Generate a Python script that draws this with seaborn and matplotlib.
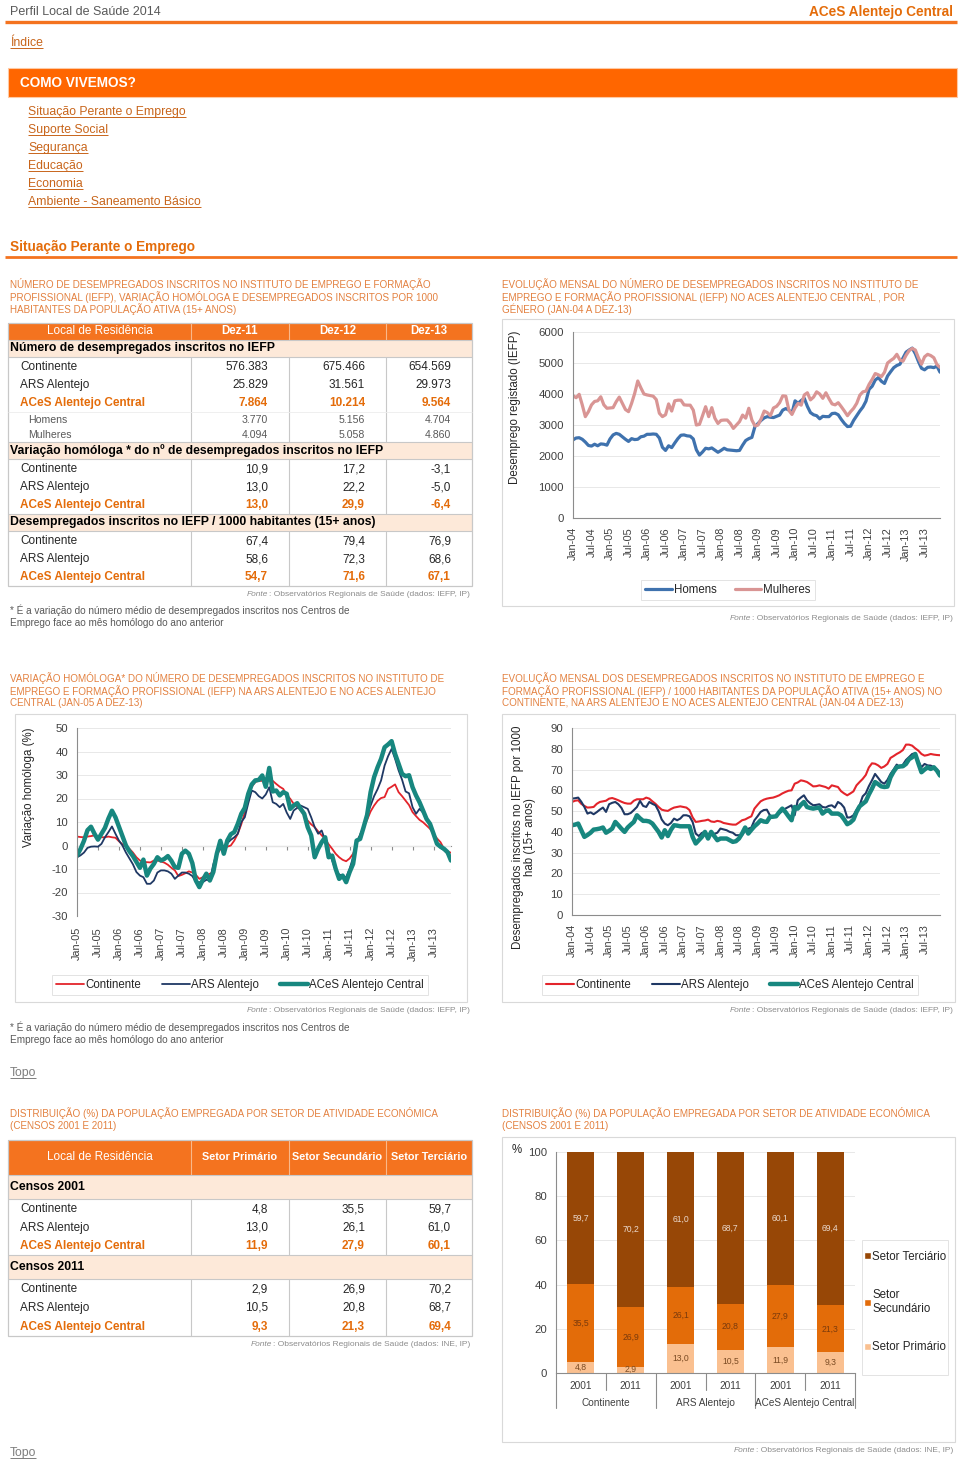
import matplotlib
matplotlib.use("Agg")
import matplotlib.pyplot as plt
from matplotlib.patches import Rectangle, Patch
from matplotlib.lines import Line2D
import numpy as np
import pandas as pd
import seaborn as sns

# ---------------- data ----------------
# monthly registered unemployed, ACeS Alentejo Central, Jan-04 .. Dec-13
homens = [
    2520, 2580, 2590, 2540, 2450, 2340, 2320, 2380, 2330, 2390, 2380, 2350,
    2550, 2680, 2730, 2700, 2620, 2540, 2470, 2560, 2530, 2540, 2620, 2640,
    2700, 2700, 2710, 2700, 2580, 2280, 2180, 2330, 2270, 2420, 2560, 2670,
    2680, 2650, 2640, 2550, 2200, 2030, 2130, 2250, 2230, 2260, 2190, 2120,
    2180, 2250, 2200, 2190, 2180, 2170, 2180, 2350, 2500, 2560, 2600, 2950,
    3050, 3150, 3230, 3270, 3250, 3240, 3280, 3320, 3480, 3530, 3480, 3380,
    3780, 3700, 3790, 3860, 3600, 3400, 3330, 3300, 3200, 3280, 3270, 3270,
    3370, 3380, 3330, 3180, 3050, 2950, 2960, 3150, 3300, 3450, 3580, 3770,
    4150, 4250, 4450, 4530, 4410, 4340, 4580, 4720, 4850, 4920, 4960, 5160,
    5350, 5420, 5480, 5300, 5050, 4830, 4780, 4860, 4870, 4850, 4900, 4704,
]
mulheres = [
    3950, 3880, 3990, 3650, 3270, 3430, 3650, 3760, 3780, 3910, 3650, 3540,
    3550, 3560, 3750, 3900, 3700, 3500, 3430, 3700, 4020, 4420, 4200, 4000,
    3970, 3950, 3930, 3820, 3380, 3270, 3330, 3680, 3450, 3780, 3800, 3800,
    3650, 3640, 3640, 3480, 3000, 3020, 3300, 3590, 3270, 3560, 3220, 3050,
    3150, 3160, 3160, 3050, 2890, 3000, 3110, 3320, 3220, 3540, 3160, 2970,
    3000, 3200, 3450, 3400, 3300, 3550, 3600, 3720, 3940, 3930, 3480, 3340,
    3550, 3700, 3640, 3970, 4040, 3810, 3900, 4070, 4000, 3860, 4040, 3850,
    3680, 3650, 3720, 3590, 3450, 3300, 3430, 3540, 3700, 3960, 4070, 4094,
    4310, 4470, 4660, 4620, 4560, 4700, 5000, 5080, 5150, 5280, 5100, 5058,
    5250, 5400, 5470, 5420, 5170, 4960, 5200, 5280, 5240, 5170, 4950, 4860,
]

# year-on-year variation (%), Jan-05 .. Dec-13
var_cont = [
    3.8, 3.6, 3.5, 3.8, 4.0, 4.3, 3.6, 3.5, 3.5, 3.8, 3.5, 3.3,
    1.8, 0.5, -0.5, -1.4, -3.0, -5.0, -6.4, -7.0, -7.1, -7.2, -6.4, -6.4,
    -6.8, -7.3, -8.2, -9.5, -10.6, -13.0, -12.5, -11.8, -11.0, -11.5, -12.5, -14.2,
    -13.5, -12.8, -12.0, -11.5, -4.0, -1.5, -1.0, -0.5, 0.0, 2.1, 5.0, 9.0,
    14.0, 20.0, 25.0, 27.0, 27.5, 27.5, 28.0, 28.4, 27.5, 26.2, 25.0, 24.1,
    21.5, 19.9, 17.7, 16.5, 14.9, 13.0, 10.6, 9.0, 7.8, 6.0, 4.3, 2.8,
    0.5, -1.4, -3.5, -5.0, -6.1, -6.7, -5.5, -3.5, 0.7, 4.5, 7.8, 10.9,
    14.5, 17.0, 19.0, 20.2, 20.6, 24.1, 25.0, 26.0, 22.7, 21.0, 19.1, 17.2,
    14.2, 12.5, 10.9, 9.9, 8.5, 7.1, 5.0, 3.0, 1.4, -1.4, -2.5, -3.1,
]
var_ars = [
    -5.0, -4.2, -3.0, -1.0, -0.5, -0.4, -0.5, 0.7, 3.5, 5.7, 8.1, 5.0,
    2.1, 0.0, -3.0, -5.5, -8.0, -11.3, -12.8, -13.5, -16.3, -16.3, -14.9, -11.5,
    -10.6, -10.6, -11.0, -12.0, -14.2, -12.8, -11.5, -11.5, -12.0, -13.0, -15.6, -15.6,
    -15.6, -14.6, -14.9, -8.0, -3.0, -1.4, -2.1, 1.0, 2.4, 3.5, 5.0, 10.0,
    12.0, 18.0, 23.4, 22.7, 21.0, 20.0, 21.7, 24.8, 18.4, 17.7, 16.3, 17.7,
    14.0, 11.3, 14.9, 16.0, 17.0, 16.3, 15.6, 12.0, 7.8, 5.0, 6.4, 2.1,
    -2.1, -6.4, -10.6, -12.3, -13.0, -13.5, -9.9, -5.0, 1.4, 4.5, 7.8, 13.0,
    17.0, 21.0, 24.0, 27.7, 34.0, 38.0, 41.1, 36.9, 32.0, 28.0, 23.0, 22.2,
    16.3, 13.5, 15.6, 14.0, 11.0, 9.0, 5.0, 1.0, -1.0, -2.0, -3.5, -5.0,
]
var_aces = [
    -4.3, -1.5, 2.0, 6.5, 8.0, 5.0, 2.5, 5.0, 7.5, 11.5, 14.8, 12.0,
    8.0, 4.0, 0.0, -2.5, -4.5, -7.0, -9.5, -6.0, -12.8, -9.8, -7.8, -5.0,
    -6.4, -5.7, -4.5, -6.5, -9.2, -9.5, -3.5, -2.2, -3.5, -7.5, -14.9, -17.7,
    -14.6, -12.0, -14.9, -11.3, -3.5, 2.0, -3.5, 2.1, 4.8, 5.7, 9.2, 13.5,
    16.0, 22.0, 26.0, 27.7, 27.9, 29.8, 25.0, 33.0, 23.0, 23.4, 21.3, 22.7,
    22.0, 15.6, 17.0, 18.0, 15.6, 13.5, 7.8, 4.3, -5.0, -1.4, 1.4, 3.5,
    -5.0, -4.3, -9.9, -14.2, -12.8, -15.6, -11.3, -7.8, 2.1, 2.8, 7.8, 13.0,
    22.7, 29.1, 33.3, 36.9, 41.8, 43.0, 44.4, 39.0, 34.8, 30.5, 29.5, 29.9,
    24.8, 21.3, 18.4, 14.9, 11.3, 9.2, 5.0, 0.7, -0.5, -1.4, -2.8, -6.4,
]

# unemployed per 1000 inhabitants (15+), Jan-04 .. Dec-13
hab_cont = [
    54.4, 55.0, 55.2, 53.5, 52.5, 51.7, 51.8, 52.0, 53.5, 54.4, 54.7, 55.0,
    56.0, 56.3, 55.8, 55.2, 54.5, 53.9, 53.6, 53.6, 55.0, 55.7, 55.7, 55.7,
    56.5, 56.0, 54.7, 53.5, 52.0, 50.7, 50.3, 50.1, 51.0, 51.7, 52.0, 52.3,
    52.0, 51.7, 50.5, 47.0, 44.8, 45.0, 45.3, 45.5, 45.9, 45.0, 44.8, 45.3,
    45.0, 44.3, 44.0, 43.7, 43.5, 43.5, 44.5, 45.6, 46.0, 46.8, 47.5, 51.2,
    53.0, 54.7, 55.5, 56.0, 56.3, 56.5, 57.0, 57.6, 58.5, 59.2, 59.8, 60.0,
    63.2, 63.8, 64.8, 64.5, 64.0, 63.0, 61.9, 62.0, 62.4, 62.0, 61.6, 60.8,
    62.4, 62.0, 61.6, 59.6, 58.5, 57.6, 58.5, 59.5, 62.4, 64.0, 65.5, 67.4,
    71.0, 73.0, 72.8, 72.0, 70.8, 71.5, 72.7, 75.6, 76.5, 77.5, 78.3, 79.4,
    82.0, 82.0, 81.5, 80.2, 79.1, 77.5, 76.7, 77.0, 77.5, 77.2, 77.0, 76.9,
]
hab_ars = [
    56.0, 56.2, 56.5, 54.5, 52.0, 48.8, 49.4, 48.5, 49.5, 50.7, 51.7, 49.6,
    53.3, 54.0, 54.4, 53.3, 51.5, 48.5, 48.5, 49.1, 50.5, 52.0, 54.9, 52.5,
    52.0, 54.4, 53.5, 52.8, 50.0, 46.0, 44.0, 43.2, 44.3, 46.4, 45.6, 46.4,
    48.0, 48.0, 47.5, 44.8, 39.2, 38.0, 39.5, 40.0, 38.4, 40.0, 39.0, 39.6,
    41.6, 41.2, 40.8, 40.0, 39.6, 38.4, 38.4, 38.4, 40.8, 41.5, 42.1, 45.6,
    47.5, 49.6, 50.5, 50.7, 48.0, 47.2, 47.5, 48.8, 50.0, 51.2, 52.0, 52.8,
    48.0, 55.2, 56.5, 57.6, 55.2, 53.8, 52.8, 53.0, 53.3, 52.0, 51.7, 52.5,
    52.8, 51.7, 54.4, 53.5, 51.7, 46.9, 47.0, 48.0, 50.5, 52.8, 57.1, 58.6,
    62.0, 64.8, 67.9, 66.0, 64.0, 63.2, 65.0, 67.9, 70.0, 72.4, 71.1, 72.3,
    74.6, 76.0, 77.5, 77.8, 74.0, 71.1, 72.7, 72.0, 71.9, 71.1, 69.9, 68.6,
]
hab_aces = [
    43.2, 43.5, 44.0, 40.8, 37.6, 38.5, 39.6, 41.1, 41.3, 41.6, 42.1, 39.6,
    40.5, 41.6, 44.8, 43.2, 41.5, 40.0, 42.1, 43.5, 44.8, 48.0, 46.5, 45.3,
    45.3, 45.0, 44.0, 42.0, 40.0, 37.3, 40.8, 38.0, 41.0, 43.2, 43.0, 42.7,
    42.7, 42.7, 42.7, 37.6, 34.4, 36.0, 37.6, 40.0, 36.8, 40.0, 38.0, 36.0,
    36.8, 36.8, 36.8, 36.0, 35.2, 35.5, 36.8, 39.2, 42.1, 39.2, 41.0, 42.7,
    44.0, 45.6, 45.0, 44.8, 47.2, 47.3, 47.5, 49.5, 51.2, 49.6, 47.5, 45.6,
    52.0, 51.2, 53.0, 54.4, 52.0, 51.5, 51.2, 51.5, 51.7, 48.8, 50.0, 50.4,
    48.8, 48.8, 48.8, 48.0, 46.0, 43.7, 44.5, 45.9, 49.6, 52.3, 53.5, 54.7,
    58.0, 60.8, 64.0, 63.0, 61.9, 61.6, 61.8, 66.3, 69.0, 71.1, 71.5, 71.6,
    72.7, 75.0, 75.9, 77.5, 73.0, 68.7, 70.0, 71.1, 70.3, 71.1, 69.5, 67.1,
]

lbl_04 = [f"{m}-{y:02d}" for y in range(4, 14) for m in ("Jan", "Jul")]
lbl_05 = [f"{m}-{y:02d}" for y in range(5, 14) for m in ("Jan", "Jul")]

# table 1
t1_cols = ["Dez-11", "Dez-12", "Dez-13"]
t1_sec1 = "Número de desempregados inscritos no IEFP"
t1_rows1 = [
    ("Continente", ["576.383", "675.466", "654.569"], "n"),
    ("ARS Alentejo", ["25.829", "31.561", "29.973"], "n"),
    ("ACeS Alentejo Central", ["7.864", "10.214", "9.564"], "a"),
    ("Homens", ["3.770", "5.156", "4.704"], "s"),
    ("Mulheres", ["4.094", "5.058", "4.860"], "s"),
]
t1_sec2 = "Variação homóloga * do nº de desempregados inscritos no IEFP"
t1_rows2 = [
    ("Continente", ["10,9", "17,2", "-3,1"], "n"),
    ("ARS Alentejo", ["13,0", "22,2", "-5,0"], "n"),
    ("ACeS Alentejo Central", ["13,0", "29,9", "-6,4"], "a"),
]
t1_sec3 = "Desempregados inscritos no IEFP / 1000 habitantes (15+ anos)"
t1_rows3 = [
    ("Continente", ["67,4", "79,4", "76,9"], "n"),
    ("ARS Alentejo", ["58,6", "72,3", "68,6"], "n"),
    ("ACeS Alentejo Central", ["54,7", "71,6", "67,1"], "a"),
]

# table 2 / chart 4
regioes = ["Continente", "ARS Alentejo", "ACeS Alentejo Central"]
anos = ["2001", "2011"]
t2_cols = ["Setor Primário", "Setor Secundário", "Setor Terciário"]
primario = [4.8, 2.9, 13.0, 10.5, 11.9, 9.3]
secundario = [35.5, 26.9, 26.1, 20.8, 27.9, 21.3]
terciario = [59.7, 70.2, 61.0, 68.7, 60.1, 69.4]

# ---------------- style ----------------
sns.set_style("white")
plt.rcParams["font.family"] = ["Liberation Sans", "DejaVu Sans"]
plt.rcParams["axes.unicode_minus"] = False

W, H = 960, 1461
ORANGE = "#FF6600"
HEAD = "#F4731F"
PEACH = "#FDE9D9"
ACES = "#E46C0A"
TITLE = "#E3803F"
LINK = "#C8651B"
DARK = "#262626"
GRAY = "#8C8C8C"
FRAME = "#D9D9D9"
AXIS = "#8C8C8C"
GRID = "#E8E8E8"
TICK = "#404040"
BLUE, PINK = "#3F72AE", "#D99594"
RED, NAVY, TEAL = "#E3242B", "#1F3864", "#17877F"
C_TER, C_SEC, C_PRI = "#974706", "#E36C09", "#FAC090"

fig = plt.figure(figsize=(W / 100, H / 100), dpi=100)
bg = fig.add_axes([0, 0, 1, 1])
bg.set_xlim(0, W)
bg.set_ylim(H, 0)
bg.axis("off")
renderer = fig.canvas.get_renderer()


def txt(x, y, s, size=8.5, color=DARK, **kw):
    kw.setdefault("va", "center")
    return bg.text(x, y, s, fontsize=size, color=color, **kw)


def hline(x0, x1, y, color, lw):
    bg.plot([x0, x1], [y, y], color=color, lw=lw, solid_capstyle="butt")


def vline(x, y0, y1, color, lw):
    bg.plot([x, x], [y0, y1], color=color, lw=lw, solid_capstyle="butt")


def rect(x0, y0, x1, y1, fc="none", ec="none", lw=0.8):
    bg.add_patch(Rectangle((x0, y0), x1 - x0, y1 - y0, facecolor=fc, edgecolor=ec, lw=lw))


def link(x, y, s, color=LINK, size=8.8):
    t = txt(x, y, s, size=size, color=color)
    bb = t.get_window_extent(renderer)
    hline(bb.x0, bb.x1, H - bb.y0 - 1, color, 0.7)


def fonte(xr, y, rest):
    t = txt(xr, y, rest, size=6, color=GRAY, ha="right")
    bb = t.get_window_extent(renderer)
    txt(bb.x0 - 1, y, "Fonte", size=6, color=GRAY, ha="right", style="italic")


def title(x, y0, lines):
    for i, s in enumerate(lines):
        txt(x, y0 + i * 12.7, s, size=7.1, color=TITLE)


def note(y):
    txt(10, y, "* É a variação do número médio de desempregados inscritos nos Centros de",
        size=7.2, color="#595959")
    txt(10, y + 13, "Emprego face ao mês homólogo do ano anterior", size=7.2, color="#595959")


def add_ax(x0, y0, x1, y1):
    ax = fig.add_axes([x0 / W, 1 - y1 / H, (x1 - x0) / W, (y1 - y0) / H])
    ax.patch.set_alpha(0)
    return ax


def style_ax(ax):
    for s in ["top", "right"]:
        ax.spines[s].set_visible(False)
    for s in ["left", "bottom"]:
        ax.spines[s].set_color(AXIS)
        ax.spines[s].set_linewidth(0.8)
    ax.yaxis.grid(True, color=GRID, lw=0.7)
    ax.xaxis.grid(False)
    ax.set_axisbelow(True)
    ax.tick_params(axis="both", colors=AXIS, labelcolor=TICK, labelsize=8.2,
                   length=3, width=0.8, direction="out")
    ax.set_xlabel("")
    ax.set_ylabel("")


def fig_legend(ax, handles, labels, cx, cy, frame=True, **kw):
    leg = ax.legend(handles, labels, loc="center", bbox_to_anchor=(cx / W, 1 - cy / H),
                    bbox_transform=fig.transFigure, frameon=frame, fancybox=False,
                    edgecolor="#E3E3E3", framealpha=1, fontsize=8.3, borderpad=0.35,
                    handletextpad=0.15, **kw)
    if frame:
        leg.get_frame().set_linewidth(0.7)
    for t in leg.get_texts():
        t.set_color(DARK)
    return leg


# ---------------- page header ----------------
txt(10, 12, "Perfil Local de Saúde 2014", size=9, color="#595959")
txt(953, 12, "ACeS Alentejo Central", size=9.8, color=ACES, ha="right", weight="bold")
hline(5, 957, 22, HEAD, 2.4)
link(10, 43, "Índice")
rect(8, 68, 957, 97, fc=ORANGE, ec="#FFC9A3", lw=0.8)
txt(20, 83, "COMO VIVEMOS?", size=9.8, color="white", weight="bold")
for i, s in enumerate(["Situação Perante o Emprego", "Suporte Social", "Segurança",
                       "Educação", "Economia", "Ambiente - Saneamento Básico"]):
    link(28, 112 + i * 18, s)
txt(10, 247, "Situação Perante o Emprego", size=9.8, color=ACES, weight="bold")
hline(5, 957, 256.5, HEAD, 2.0)

# ---------------- table 1 ----------------
title(10, 284, ["NÚMERO DE DESEMPREGADOS INSCRITOS NO INSTITUTO DE EMPREGO E FORMAÇÃO",
                "PROFISSIONAL (IEFP), VARIAÇÃO HOMÓLOGA E DESEMPREGADOS INSCRITOS POR 1000",
                "HABITANTES DA POPULAÇÃO ATIVA (15+ ANOS)"])
COLX = [8, 191, 289, 386, 472]
VALX = [268, 365, 451]
LINE = "#C8C8C8"


def table(y_top, y_head, y_bot, head_labels, sections, size_head=8.3):
    rect(COLX[0], y_top, COLX[-1], y_head, fc=HEAD)
    for x in COLX[1:-1]:
        vline(x, y_top, y_head, "#F9B88A", 0.8)
    yc = (y_top + y_head) / 2
    txt((COLX[0] + COLX[1]) / 2, yc, "Local de Residência", size=8.5, color="white", ha="center")
    for j, s in enumerate(head_labels):
        txt((COLX[j + 1] + COLX[j + 2]) / 2, yc, s, size=size_head, color="white",
            ha="center", weight="bold")
    for name, (b0, b1), rows, ends in sections:
        rect(COLX[0], b0, COLX[-1], b1, fc=PEACH)
        hline(COLX[0], COLX[-1], b0, LINE, 0.8)
        hline(COLX[0], COLX[-1], b1, LINE, 0.8)
        txt(10, (b0 + b1) / 2, name, size=8.8, color="black", weight="bold")
        for x in COLX[1:-1]:
            vline(x, b1, ends, LINE, 0.8)
        for (label, vals, kind), y in rows:
            if kind == "a":
                kw = dict(size=8.5, color=ACES, weight="bold")
                lx = 20
            elif kind == "s":
                kw = dict(size=7.6, color="#595959")
                lx = 28
            else:
                kw = dict(size=8.5, color=DARK)
                lx = 20
            txt(lx, y, label, **kw)
            for v, x in zip(vals, VALX):
                txt(x, y, v, ha="right", **kw)
    rect(COLX[0], y_top, COLX[-1], y_bot, ec=LINE, lw=0.9)


table(323, 340, 586, t1_cols, [
    (t1_sec1, (340, 357), list(zip(t1_rows1, [367, 385, 403, 420, 435])), 442),
    (t1_sec2, (442, 459), list(zip(t1_rows2, [469, 487, 505])), 514),
    (t1_sec3, (514, 531), list(zip(t1_rows3, [541, 559, 577])), 586),
])
hline(COLX[0], COLX[-1], 411.5, "#EDEDED", 0.6)
fonte(470, 594, ": Observatórios Regionais de Saúde (dados: IEFP, IP)")
note(610)

# ---------------- chart 1: homens / mulheres ----------------
title(502, 284, ["EVOLUÇÃO MENSAL DO NÚMERO DE DESEMPREGADOS INSCRITOS NO INSTITUTO DE",
                 "EMPREGO E FORMAÇÃO PROFISSIONAL (IEFP) NO ACES ALENTEJO CENTRAL , POR",
                 "GÉNERO (JAN-04 A DEZ-13)"])
rect(502, 319, 954, 606, ec=FRAME)
ax1 = add_ax(573, 332, 940, 518)
m120 = np.arange(len(homens))
sns.lineplot(x=m120, y=homens, color=BLUE, lw=2.3, ax=ax1, solid_joinstyle="round")
sns.lineplot(x=m120, y=mulheres, color=PINK, lw=2.3, ax=ax1, solid_joinstyle="round")
style_ax(ax1)
ax1.set_xlim(0, 119)
ax1.set_ylim(0, 6000)
ax1.set_yticks(range(0, 7000, 1000))
ax1.set_xticks(range(0, 120, 6))
ax1.set_xticklabels(lbl_04, rotation=90, fontsize=7.8)
txt(515, 407, "Desemprego registado (IEFP)", size=8.3, rotation=90, ha="center")
fig_legend(ax1, [Line2D([], [], color=BLUE, lw=2.3), Line2D([], [], color=PINK, lw=2.3)],
           ["Homens", "Mulheres"], 728, 590, ncol=2, handlelength=2.3, columnspacing=1.6)
fonte(953, 618, ": Observatórios Regionais de Saúde (dados: IEFP, IP)")

# ---------------- chart 2: variação homóloga ----------------
title(10, 678, ["VARIAÇÃO HOMÓLOGA* DO NÚMERO DE DESEMPREGADOS INSCRITOS NO INSTITUTO DE",
                "EMPREGO E FORMAÇÃO PROFISSIONAL (IEFP) NA ARS ALENTEJO E NO ACES ALENTEJO",
                "CENTRAL (JAN-05 A DEZ-13)"])
rect(15, 714, 467, 1002, ec=FRAME)
ax2 = add_ax(77, 728, 451, 916)
m108 = np.arange(len(var_cont))
series2 = [("Continente", var_cont, RED, 1.3), ("ARS Alentejo", var_ars, NAVY, 1.3),
           ("ACeS Alentejo Central", var_aces, TEAL, 3.2)]
for name, vals, col, lw in series2:
    sns.lineplot(x=m108, y=vals, color=col, lw=lw, ax=ax2, solid_joinstyle="round")
style_ax(ax2)
ax2.set_xlim(0, 107)
ax2.set_ylim(-30, 50)
ax2.set_yticks(range(-30, 60, 10))
ax2.set_xticks(range(0, 108, 6))
ax2.set_xticklabels(lbl_05, rotation=90, fontsize=7.8)
ax2.spines["bottom"].set_visible(False)
ax2.tick_params(axis="x", length=0, pad=8)
zero = ax2.secondary_xaxis(30 / 80)
zero.set_xticks(range(0, 108, 6))
zero.tick_params(axis="x", length=3, width=0.8, color=AXIS, labelbottom=False, labeltop=False)
for s in zero.spines.values():
    s.set_color(AXIS)
    s.set_linewidth(0.8)
txt(29, 787, "Variação homóloga (%)", size=8.3, rotation=90, ha="center")
fig_legend(ax2, [Line2D([], [], color=c, lw=lw) for _, _, c, lw in series2],
           [n for n, _, _, _ in series2], 240, 985, ncol=3, handlelength=2.4, columnspacing=1.8)
fonte(470, 1011, ": Observatórios Regionais de Saúde (dados: IEFP, IP)")
note(1027)

# ---------------- chart 3: por 1000 habitantes ----------------
title(502, 678, ["EVOLUÇÃO MENSAL DOS DESEMPREGADOS INSCRITOS NO INSTITUTO DE EMPREGO E",
                 "FORMAÇÃO PROFISSIONAL (IEFP) / 1000 HABITANTES DA POPULAÇÃO ATIVA (15+ ANOS) NO",
                 "CONTINENTE, NA ARS ALENTEJO E NO ACES ALENTEJO CENTRAL (JAN-04 A DEZ-13)"])
rect(502, 714, 955, 1002, ec=FRAME)
ax3 = add_ax(572, 728, 940, 915)
series3 = [("Continente", hab_cont, RED, 1.5), ("ARS Alentejo", hab_ars, NAVY, 1.5),
           ("ACeS Alentejo Central", hab_aces, TEAL, 3.2)]
for name, vals, col, lw in series3:
    sns.lineplot(x=m120, y=vals, color=col, lw=lw, ax=ax3, solid_joinstyle="round")
style_ax(ax3)
ax3.set_xlim(0, 119)
ax3.set_ylim(0, 90)
ax3.set_yticks(range(0, 100, 10))
ax3.set_xticks(range(0, 120, 6))
ax3.set_xticklabels(lbl_04, rotation=90, fontsize=7.8)
txt(524, 837, "Desempregados inscritos no IEFP por 1000\nhab (15+ anos)", size=8.3,
    rotation=90, ha="center", multialignment="center", linespacing=1.05)
fig_legend(ax3, [Line2D([], [], color=c, lw=lw) for _, _, c, lw in series3],
           [n for n, _, _, _ in series3], 730, 985, ncol=3, handlelength=2.4, columnspacing=1.8)
fonte(953, 1011, ": Observatórios Regionais de Saúde (dados: IEFP, IP)")

link(10, 1073, "Topo", color="#7F7F7F")

# ---------------- table 2 ----------------
title(10, 1113, ["DISTRIBUIÇÃO (%) DA POPULAÇÃO EMPREGADA POR SETOR DE ATIVIDADE ECONÓMICA",
                 "(CENSOS 2001 E 2011)"])
fmt = lambda v: f"{v:.1f}".replace(".", ",")
rows_2001, rows_2011 = [], []
for i, reg in enumerate(regioes):
    kind = "a" if i == 2 else "n"
    for k, dest in enumerate([rows_2001, rows_2011]):
        j = i * 2 + k
        dest.append((reg, [fmt(primario[j]), fmt(secundario[j]), fmt(terciario[j])], kind))
table(1140, 1175, 1336, t2_cols, [
    ("Censos 2001", (1175, 1199), list(zip(rows_2001, [1209, 1228, 1246])), 1255),
    ("Censos 2011", (1255, 1279), list(zip(rows_2011, [1289, 1308, 1327])), 1336),
], size_head=7.8)
fonte(470, 1345, ": Observatórios Regionais de Saúde (dados: INE, IP)")

# ---------------- chart 4: stacked bars ----------------
title(502, 1113, ["DISTRIBUIÇÃO (%) DA POPULAÇÃO EMPREGADA POR SETOR DE ATIVIDADE ECONÓMICA",
                  "(CENSOS 2001 E 2011)"])
rect(502, 1137, 955, 1442, ec=FRAME)
ax4 = add_ax(556, 1152, 855, 1373)
df4 = pd.DataFrame({
    "bar": [f"{r} {a}" for r in regioes for a in anos],
    "prim": primario, "sec": secundario, "ter": terciario,
})
df4["c_sec"] = df4["prim"] + df4["sec"]
df4["c_ter"] = df4["c_sec"] + df4["ter"]
for col, c in [("c_ter", C_TER), ("c_sec", C_SEC), ("prim", C_PRI)]:
    sns.barplot(data=df4, x="bar", y=col, color=c, width=0.54, saturation=1, ax=ax4,
                linewidth=0, edgecolor="none")
style_ax(ax4)
ax4.set_ylim(0, 100)
ax4.set_xlim(-0.5, len(df4) - 0.5)
ax4.set_yticks(range(0, 120, 20))
ax4.set_xticks(range(len(df4)))
ax4.set_xticklabels(anos * len(regioes), fontsize=7.3)
ax4.tick_params(axis="x", length=0, pad=6)
for i, r in df4.iterrows():
    ax4.text(i, r["prim"] / 2, fmt(r["prim"]), ha="center", va="center", fontsize=6.2, color="#7A4A22")
    ax4.text(i, r["prim"] + r["sec"] / 2, fmt(r["sec"]), ha="center", va="center",
             fontsize=6.2, color="#7A3A0C")
    ax4.text(i, r["c_sec"] + (100 - r["c_sec"]) / 2, fmt(r["ter"]), ha="center", va="center",
             fontsize=6.2, color="#EBD9CD")
xt = ax4.get_xaxis_transform()
edges = np.arange(len(df4) + 1) - 0.5
for k, e in enumerate(edges):
    depth = 0.158 if k % 2 == 0 else 0.077
    ax4.plot([e, e], [0, -depth], transform=xt, clip_on=False, color=AXIS, lw=0.8)
for g, reg in enumerate(regioes):
    ax4.text(g * 2 + 0.5, -0.136, reg, transform=xt, ha="center", va="center",
             fontsize=7.2, color=TICK)
txt(512, 1150, "%", size=8.3)
rect(862, 1240, 948, 1375, fc="white", ec="#E3E3E3", lw=0.7)
fig_legend(ax4, [Patch(facecolor=C_TER), Patch(facecolor=C_SEC), Patch(facecolor=C_PRI)],
           ["Setor Terciário", "Setor\nSecundário", "Setor Primário"], 905, 1302,
           frame=False, handlelength=0.6, handleheight=0.6, labelspacing=2.3)
fonte(953, 1451, ": Observatórios Regionais de Saúde (dados: INE, IP)")
link(10, 1453, "Topo", color="#7F7F7F")

fig.savefig("out.png", dpi=100)
